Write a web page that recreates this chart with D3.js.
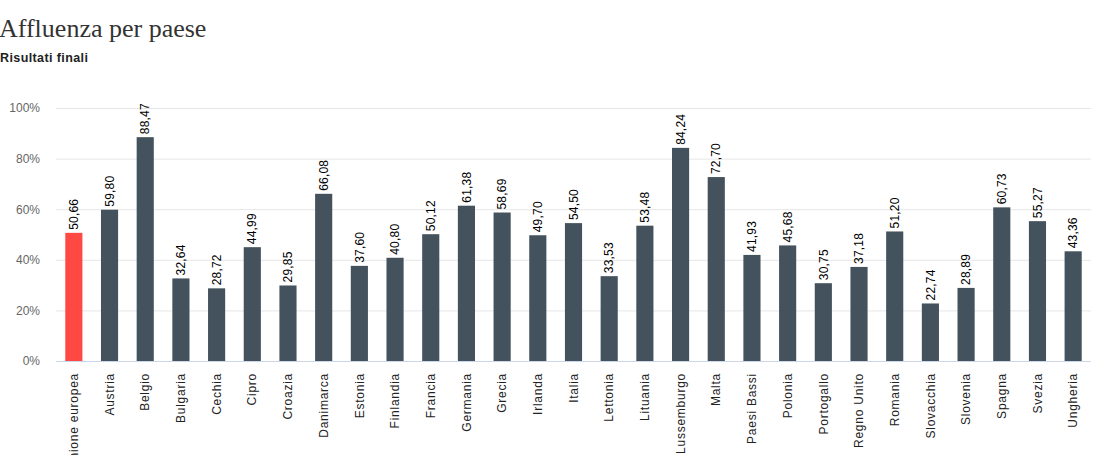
<!DOCTYPE html>
<html><head><meta charset="utf-8">
<script src="https://cdn.jsdelivr.net/npm/d3@7"></script>
<style>body{margin:0;background:#fff;} svg{display:block;}</style>
</head><body>
<svg id="c" width="1101" height="455"></svg>
<script>
const categories = ["Unione europea","Austria","Belgio","Bulgaria","Cechia","Cipro","Croazia","Danimarca","Estonia","Finlandia","Francia","Germania","Grecia","Irlanda","Italia","Lettonia","Lituania","Lussemburgo","Malta","Paesi Bassi","Polonia","Portogallo","Regno Unito","Romania","Slovacchia","Slovenia","Spagna","Svezia","Ungheria"];
const values = [50.66,59.80,88.47,32.64,28.72,44.99,29.85,66.08,37.60,40.80,50.12,61.38,58.69,49.70,54.50,33.53,53.48,84.24,72.70,41.93,45.68,30.75,37.18,51.20,22.74,28.89,60.73,55.27,43.36];
const yTicks = [0,20,40,60,80,100];
const title = "Affluenza per paese";
const subtitle = "Risultati finali";

const svg = d3.select("#c");
const mLeft = 56, mRight = 1091, mTop = 108, mBottom = 361;
const x = d3.scaleBand().domain(categories).range([mLeft, mRight]).paddingInner(0.52).paddingOuter(0.26);
const y = d3.scaleLinear().domain([0,100]).range([mBottom, mTop]);
const sans = "Arial, 'Liberation Sans', sans-serif";

svg.append("text").attr("x", -1).attr("y", 37).attr("font-family","Georgia, 'Liberation Serif', serif")
  .attr("font-size", 26).attr("fill","#333").text(title);
svg.append("text").attr("x", 0).attr("y", 62).attr("font-family", sans)
  .attr("font-size", 12.5).attr("letter-spacing", 0.4).attr("font-weight","bold").attr("fill","#222").text(subtitle);

// grid
const yAxis = d3.axisLeft(y).tickValues(yTicks).tickSize(-(mRight-mLeft)).tickFormat(d => d + "%");
const gy = svg.append("g").attr("transform", `translate(${mLeft},0)`).call(yAxis);
gy.select(".domain").remove();
gy.selectAll(".tick line").attr("stroke","#e6e6e6");
gy.selectAll(".tick text").attr("x", -16).attr("fill","#666").attr("font-size",12)
  .attr("font-family", sans);

// bars
svg.append("g").selectAll("rect").data(categories).join("rect")
  .attr("x", d => x(d)).attr("width", x.bandwidth())
  .attr("y", (d,i) => y(values[i])).attr("height", (d,i) => y(0) - y(values[i]))
  .attr("fill", (d,i) => i === 0 ? "#fe4844" : "#43525c");

// baseline + category labels
const xAxis = d3.axisBottom(x).tickSize(0).tickPadding(0);
const gx = svg.append("g").attr("transform", `translate(0,${mBottom})`).call(xAxis);
gx.select(".domain").attr("stroke","#ccd6eb").attr("d", `M${mLeft},0.5H${mRight}`);
gx.selectAll(".tick text")
  .attr("transform","rotate(-90)").attr("text-anchor","end")
  .attr("x", -12).attr("y", 0).attr("dy","0.35em").attr("letter-spacing", 0.75)
  .attr("fill","#222").attr("font-size",12).attr("font-family", sans);

// value labels
svg.append("g").selectAll("text").data(categories).join("text")
  .attr("transform", (d,i) => `translate(${x(d)+x.bandwidth()/2},${y(values[i])-3}) rotate(-90)`)
  .attr("dy","0.35em").attr("text-anchor","start").attr("letter-spacing", 0.2)
  .attr("font-size",12).attr("font-family", sans).attr("fill","#000")
  .text((d,i) => values[i].toFixed(2).replace(".", ","));
</script>
</body></html>
